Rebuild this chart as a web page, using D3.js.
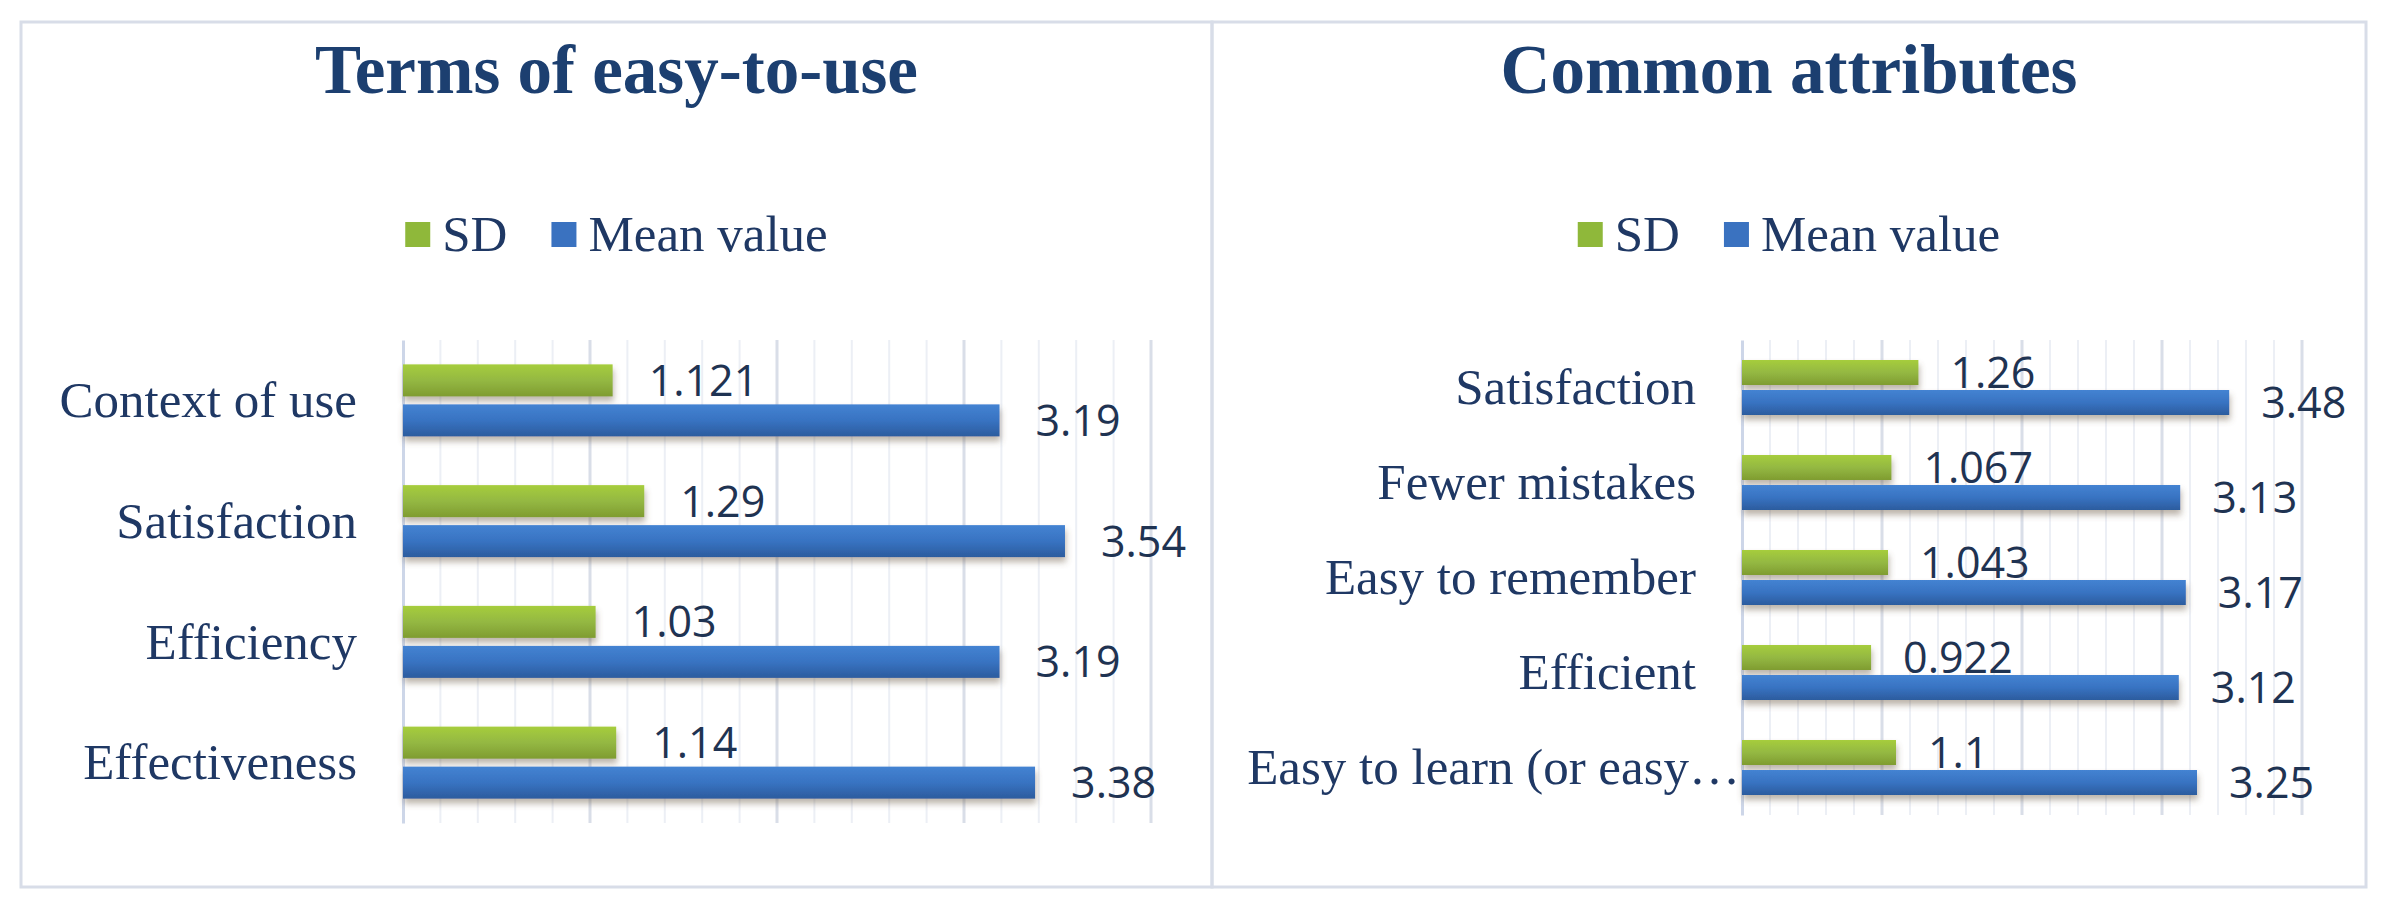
<!DOCTYPE html>
<html>
<head>
<meta charset="utf-8">
<script src="https://cdn.jsdelivr.net/npm/d3@7"></script>
<style>
  html, body { margin: 0; padding: 0; background: #fff; }
  svg { display: block; }
</style>
</head>
<body>
<svg id="chart" width="2389" height="906"></svg>
<script>
// data
const leftTitle = "Terms of easy-to-use";
const leftCategories = ["Context of use", "Satisfaction", "Efficiency", "Effectiveness"];
const leftSD = [1.121, 1.29, 1.03, 1.14];
const leftMean = [3.19, 3.54, 3.19, 3.38];

const rightTitle = "Common attributes";
const rightCategories = ["Satisfaction", "Fewer mistakes", "Easy to remember", "Efficient", "Easy to learn (or easy\u2026"];
const rightSD = [1.26, 1.067, 1.043, 0.922, 1.1];
const rightMean = [3.48, 3.13, 3.17, 3.12, 3.25];

const seriesNames = ["SD", "Mean value"];
const xDomain = [0, 4];

// layout
const panels = [
  { title: leftTitle, cats: leftCategories, sd: leftSD, mean: leftMean,
    box: [21, 22, 1212, 887], x0: 403, x1: 1151, top: 340, bottom: 823,
    barH: 32, gap: 8, labelPad: 36 },
  { title: rightTitle, cats: rightCategories, sd: rightSD, mean: rightMean,
    box: [1212, 22, 2366, 887], x0: 1742, x1: 2302, top: 340, bottom: 815,
    barH: 25, gap: 5, labelPad: 32 }
];

const navy = "#1f3864";
const serif = "'Liberation Serif', 'Times New Roman', serif";
const sans = "'Open Sans', 'Noto Sans', sans-serif";

const svg = d3.select("#chart");
svg.append("rect").attr("width", 2389).attr("height", 906).attr("fill", "#fff");

const defs = svg.append("defs");

const greenGrad = defs.append("linearGradient").attr("id", "g-green")
  .attr("x1", 0).attr("y1", 0).attr("x2", 0).attr("y2", 1);
greenGrad.selectAll("stop")
  .data([["0%", "#a6cd3c"], ["50%", "#94b843"], ["100%", "#7f9c30"]])
  .enter().append("stop")
  .attr("offset", d => d[0]).attr("stop-color", d => d[1]);

const blueGrad = defs.append("linearGradient").attr("id", "g-blue")
  .attr("x1", 0).attr("y1", 0).attr("x2", 0).attr("y2", 1);
blueGrad.selectAll("stop")
  .data([["0%", "#4483d2"], ["50%", "#3873c2"], ["100%", "#2c5c9e"]])
  .enter().append("stop")
  .attr("offset", d => d[0]).attr("stop-color", d => d[1]);

const shadow = defs.append("filter").attr("id", "shadow")
  .attr("x", "-5%").attr("y", "-30%").attr("width", "110%").attr("height", "170%");
shadow.append("feDropShadow")
  .attr("dx", 1).attr("dy", 5).attr("stdDeviation", 3)
  .attr("flood-color", "#6b5a45").attr("flood-opacity", 0.45);

const fills = ["url(#g-green)", "url(#g-blue)"];
const legendFills = ["#8fb83a", "#3a72c0"];

panels.forEach(p => {
  const [bx0, by0, bx1, by1] = p.box;
  const cx = (bx0 + bx1) / 2;
  const g = svg.append("g");

  // panel frame
  g.append("rect")
    .attr("x", bx0).attr("y", by0)
    .attr("width", bx1 - bx0).attr("height", by1 - by0)
    .attr("fill", "none").attr("stroke", "#d8dde8").attr("stroke-width", 3);

  // title
  g.append("text")
    .attr("x", cx).attr("y", 93)
    .attr("text-anchor", "middle")
    .style("font-family", serif).style("font-weight", "bold")
    .style("font-size", "69px").style("fill", "#1c3f70")
    .text(p.title);

  // legend
  const legend = g.append("g");
  let lx = 0;
  seriesNames.forEach((name, i) => {
    legend.append("rect")
      .attr("x", lx).attr("y", 222).attr("width", 25).attr("height", 25)
      .attr("fill", legendFills[i]);
    const t = legend.append("text")
      .attr("x", lx + 37).attr("y", 251)
      .style("font-family", serif).style("font-size", "51px").style("fill", navy)
      .text(name);
    lx += 37 + t.node().getComputedTextLength() + 44;
  });
  const lw = lx - 44;
  legend.attr("transform", `translate(${cx - lw / 2},0)`);

  // scales
  const x = d3.scaleLinear().domain(xDomain).range([p.x0, p.x1]);
  const y = d3.scaleBand().domain(p.cats).range([p.top, p.bottom]).padding(0);

  // gridlines: minor every 0.2, major every 1
  const minor = x.ticks(20);
  const major = x.ticks(4);
  g.append("g").selectAll("line")
    .data(minor.filter(v => !major.includes(v)))
    .enter().append("line")
    .attr("x1", d => x(d)).attr("x2", d => x(d))
    .attr("y1", p.top).attr("y2", p.bottom)
    .attr("stroke", "#eceff5").attr("stroke-width", 2);
  g.append("g").selectAll("line")
    .data(major.filter(v => v > 0))
    .enter().append("line")
    .attr("x1", d => x(d)).attr("x2", d => x(d))
    .attr("y1", p.top).attr("y2", p.bottom)
    .attr("stroke", "#d9dee8").attr("stroke-width", 3);

  // category axis
  const yAxis = d3.axisLeft(y).tickSize(0).tickPadding(46);
  const ax = g.append("g")
    .attr("transform", `translate(${p.x0},0)`)
    .call(yAxis);
  ax.select(".domain").attr("stroke", "#cdd6e8").attr("stroke-width", 3);
  ax.selectAll("text")
    .style("font-family", serif).style("font-size", "51px").style("fill", navy)
    .attr("dy", "0.33em")
    .attr("x", d => d.endsWith("\u2026") ? -2 : -46);

  // bars
  const rows = p.cats.map((c, i) => ({ cat: c, values: [p.sd[i], p.mean[i]] }));
  const pairH = p.barH * 2 + p.gap;
  const barY = (d, k) => y(d.cat) + (y.bandwidth() - pairH) / 2 + k * (p.barH + p.gap);

  [0, 1].forEach(k => {
    g.append("g").attr("filter", "url(#shadow)")
      .selectAll("rect")
      .data(rows)
      .enter().append("rect")
      .attr("x", x(0))
      .attr("y", d => barY(d, k))
      .attr("width", d => x(d.values[k]) - x(0))
      .attr("height", p.barH)
      .attr("fill", fills[k]);

    g.append("g").selectAll("text")
      .data(rows)
      .enter().append("text")
      .attr("x", d => x(d.values[k]) + p.labelPad)
      .attr("y", d => barY(d, k) + p.barH / 2)
      .attr("dy", "0.36em")
      .style("font-family", sans).style("font-size", "43px").style("fill", "#1f3352")
      .text(d => String(d.values[k]));
  });
});
</script>
</body>
</html>
